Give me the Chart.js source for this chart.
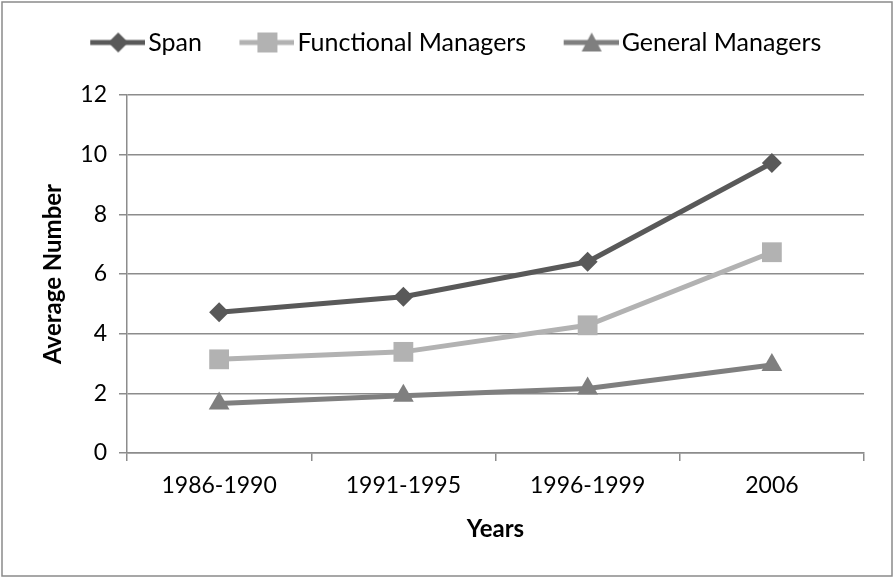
<!DOCTYPE html>
<html>
<head>
<meta charset="utf-8">
<script src="https://cdn.jsdelivr.net/npm/chart.js@4.4.0/dist/chart.umd.min.js"></script>
<style>
html, body { margin: 0; padding: 0; background: #fff; }
</style>
</head>
<body>
<canvas id="chartSpan" width="894" height="577"></canvas>
<script>
var years = ['1986-1990', '1991-1995', '1996-1999', '2006'];
var spanValues = [4.72, 5.24, 6.41, 9.72];
var functionalValues = [3.14, 3.39, 4.28, 6.73];
var generalValues = [1.66, 1.92, 2.16, 2.95];
var yTicks = [0, 2, 4, 6, 8, 10, 12];

var colSpan = '#595959';
var colFunctional = '#b2b2b2';
var colGeneral = '#7f7f7f';
var gridColor = '#8c8c8c';
var fontFamily = 'Lato, "Open Sans", sans-serif';

// legend symbol: a short thick line with the marker in the middle,
// pushed to the right end of a wider canvas so it sits close to its text
function legendSymbol(color, shape) {
    var c = document.createElement('canvas');
    c.width = 74; c.height = 24;
    var ctx = c.getContext('2d');
    var x0 = 19, cx = x0 + 28;
    ctx.strokeStyle = color;
    ctx.fillStyle = color;
    ctx.lineWidth = 5;
    ctx.beginPath(); ctx.moveTo(x0, 12); ctx.lineTo(74, 12); ctx.stroke();
    ctx.beginPath();
    if (shape == 'diamond') {
        ctx.moveTo(cx, 2); ctx.lineTo(cx + 10, 12); ctx.lineTo(cx, 22); ctx.lineTo(cx - 10, 12);
    } else if (shape == 'square') {
        ctx.rect(cx - 10, 2, 20, 20);
    } else {
        ctx.moveTo(cx, 2); ctx.lineTo(cx + 10, 21); ctx.lineTo(cx - 10, 21);
    }
    ctx.closePath(); ctx.fill();
    return c;
}
var symbols = [legendSymbol(colSpan, 'diamond'), legendSymbol(colFunctional, 'square'), legendSymbol(colGeneral, 'triangle')];

var legendFit = {
    id: 'legendFit',
    beforeUpdate: function (chart) {
        var lg = chart.legend;
        if (lg && !lg._fixed) {
            var fit = lg.fit;
            lg.fit = function () { fit.call(this); this.height = 93; };
            lg._fixed = true;
        }
    }
};

var frame = {
    id: 'frame',
    beforeDraw: function (chart) {
        var ctx = chart.ctx;
        ctx.save();
        ctx.fillStyle = '#fff';
        ctx.fillRect(0, 0, chart.width, chart.height);
        ctx.strokeStyle = '#8a8a8a';
        ctx.lineWidth = 1.5;
        ctx.strokeRect(2, 2, chart.width - 4, chart.height - 3);
        ctx.restore();
    }
};

function dataset(label, values, color, style, radius) {
    return {
        label: label,
        data: values,
        borderColor: color,
        backgroundColor: color,
        borderWidth: 5,
        tension: 0,
        pointStyle: style,
        pointRadius: radius,
        pointHoverRadius: radius,
        pointBorderWidth: 0,
        pointBackgroundColor: color
    };
}

var chart = new Chart(document.getElementById('chartSpan').getContext('2d'), {
    type: 'line',
    data: {
        labels: years,
        datasets: [
            dataset('Span', spanValues, colSpan, 'rectRot', 10),
            dataset('Functional Managers', functionalValues, colFunctional, 'rect', 14),
            dataset('General Managers', generalValues, colGeneral, 'triangle', 12)
        ]
    },
    options: {
        responsive: false,
        animation: false,
        layout: { padding: { left: 38, right: 30, top: 2, bottom: 20 } },
        plugins: {
            tooltip: { enabled: false },
            legend: {
                position: 'top',
                labels: {
                    usePointStyle: true,
                    pointStyleWidth: 55,
                    padding: 28,
                    color: '#000',
                    font: { family: fontFamily, size: 25 },
                    generateLabels: function (chart) {
                        return chart.data.datasets.map(function (ds, i) {
                            return {
                                text: ds.label, pointStyle: symbols[i],
                                fillStyle: ds.borderColor, strokeStyle: ds.borderColor,
                                lineWidth: 0, hidden: false, datasetIndex: i
                            };
                        });
                    }
                }
            }
        },
        scales: {
            x: {
                offset: true,
                grid: { offset: true, drawOnChartArea: false, color: gridColor, lineWidth: 1.5, tickLength: 8 },
                border: { color: gridColor, width: 1.5 },
                ticks: { color: '#000', font: { family: fontFamily, size: 23 }, padding: 11, maxRotation: 0 },
                title: { display: true, text: 'Years', color: '#000', font: { family: fontFamily, size: 24, weight: 'bold' }, padding: { top: 0, bottom: 13 } },
                afterFit: function (s) { s.height = 104; }
            },
            y: {
                min: 0, max: 12,
                afterBuildTicks: function (s) { s.ticks = yTicks.map(function (v) { return { value: v }; }); },
                grid: { color: gridColor, lineWidth: 1.5, tickLength: 8 },
                border: { color: gridColor, width: 1.5 },
                ticks: { color: '#000', font: { family: fontFamily, size: 23 }, padding: 12 },
                title: { display: true, text: 'Average Number', color: '#000', font: { family: fontFamily, size: 24, weight: 'bold' }, padding: { top: 1, bottom: 0 } },
                afterFit: function (s) { s.width = 89; }
            }
        }
    },
    plugins: [legendFit, frame]
});
</script>
</body>
</html>
